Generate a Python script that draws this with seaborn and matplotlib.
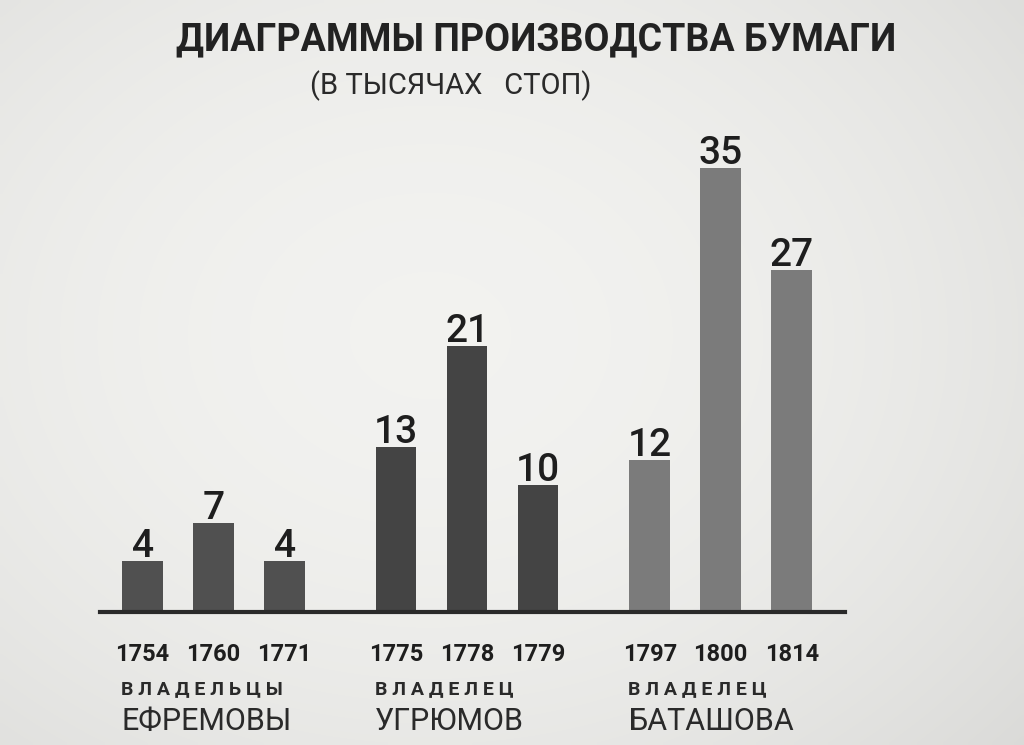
import matplotlib
matplotlib.use("Agg")
import matplotlib.pyplot as plt
import seaborn as sns
import pandas as pd
import numpy as np

# ---- data ----
years = ["1754", "1760", "1771", "1775", "1778", "1779", "1797", "1800", "1814"]
values = [4, 7, 4, 13, 21, 10, 12, 35, 27]
group_of_bar = [0, 0, 0, 1, 1, 1, 2, 2, 2]
owner_word = ["ВЛАДЕЛЬЦЫ", "ВЛАДЕЛЕЦ", "ВЛАДЕЛЕЦ"]
owner_name = ["ЕФРЕМОВЫ", "УГРЮМОВ", "БАТАШОВА"]
title = "ДИАГРАММЫ ПРОИЗВОДСТВА БУМАГИ"
subtitle = "(В ТЫСЯЧАХ   СТОП)"

# ---- style ----
group_colors = ["#505050", "#444444", "#7b7b7b"]
group_gap = 1.57
within = [0, 1, 2, 0, 1, 2, 0, 1, 2]
positions = [g * (2 + group_gap) + w for g, w in zip(group_of_bar, within)]

df = pd.DataFrame({"pos": positions, "value": values,
                   "group": [str(g) for g in group_of_bar]})

sns.set_theme(style="white")
plt.rcParams["font.family"] = ["Roboto", "DejaVu Sans"]

bg = "#ecebe8"
fig = plt.figure(figsize=(10.24, 7.45), dpi=100, facecolor=bg)

# subtle photographic vignette (paper tone, darker towards the edges)
yy, xx = np.mgrid[0:1:150j, 0:1:200j]
d = np.clip((xx - 0.42) ** 2 * 1.3 + (yy - 0.45) ** 2 * 1.1, 0, 1)
shade = 0.95 - 0.12 * d
img = np.dstack([shade, shade, shade * 0.99])
bgax = fig.add_axes([0, 0, 1, 1], zorder=-10)
bgax.imshow(img, aspect="auto", extent=[0, 1, 0, 1], interpolation="bilinear")
bgax.axis("off")

ax = fig.add_axes([100 / 1024, (745 - 612) / 745, 745 / 1024, 482 / 745])
ax.set_facecolor("none")

sns.barplot(data=df, x="pos", y="value", hue="group", native_scale=True,
            palette=group_colors, dodge=False, width=0.57, legend=False,
            saturation=1, ax=ax, linewidth=0)

ax.set_xlim(-0.6, 9.89)
ax.set_ylim(0, 38)
for s in ["top", "right", "left"]:
    ax.spines[s].set_visible(False)
ax.spines["bottom"].set_color("#2a2a2a")
ax.spines["bottom"].set_linewidth(3)
ax.set_yticks([])
ax.set_xticks(positions)
ax.set_xticklabels(years, fontsize=17, color="#1e1e1e", fontweight="bold")
ax.tick_params(axis="x", length=0, pad=22)
ax.set_xlabel("")
ax.set_ylabel("")

for p, v in zip(positions, values):
    ax.text(p, v + 0.3, str(v), ha="center", va="baseline", fontsize=28,
            color="#1e1e1e", fontweight="medium")

# owner labels under each group
for g in range(3):
    center = g * (2 + group_gap) + 1
    left = center - 1.3
    ax.text(left, -6.1, " ".join(owner_word[g]), ha="left", va="center",
            fontsize=14, color="#2a2a2a", fontweight="bold",
            transform=ax.transData, clip_on=False)
    ax.text(left, -8.6, owner_name[g], ha="left", va="center",
            fontsize=22, color="#2a2a2a",
            transform=ax.transData, clip_on=False)

fig.text(0.524, 0.947, title, ha="center", va="center", fontsize=27,
         fontweight="bold", color="#222222")
fig.text(0.44, 0.885, subtitle, ha="center", va="center", fontsize=21,
         color="#2a2a2a")

fig.savefig("out.png", dpi=100, facecolor=bg)
